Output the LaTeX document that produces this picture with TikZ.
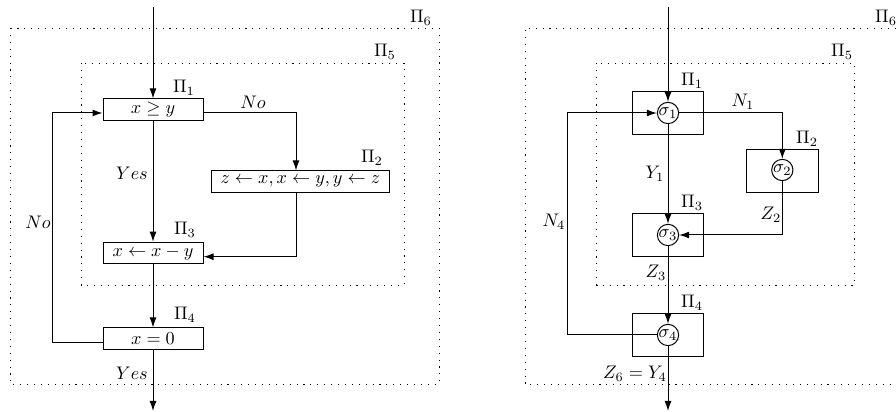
\documentclass[tikz,border=0pt]{standalone}
\usetikzlibrary{arrows.meta,calc}
\tikzset{
  every picture/.style={x=0.55pt,y=-0.55pt},
  conn/.style={line width=0.55pt},
  arr/.style={conn,-{Latex[length=5.5pt,width=3.8pt]}},
  lbox/.style={draw,line width=0.55pt,rectangle,inner sep=0pt,minimum width=55pt,minimum height=11.6pt},
  rbox/.style={draw,line width=0.55pt,rectangle,inner sep=0pt,minimum width=39.4pt,minimum height=23.8pt},
  cell/.style={draw,line width=0.55pt,circle,inner sep=0pt,minimum size=11.6pt},
  lab/.style={inner sep=0pt},
  region/.style={line width=0.5pt,dash pattern=on 0.6pt off 3.2pt}
}
\begin{document}
\begin{tikzpicture}
\useasboundingbox (0,0) rectangle (896,412);
% ---------------- left diagram ----------------
\draw[region] (10,28) rectangle (439,384);
\draw[region] (81,63) rectangle (404,285);
\node[lab] (lpi6) at (421,18) {$\Pi_6$};
\node[lab] (lpi5) at (385,52) {$\Pi_5$};

\node[lbox] (p1) at (153,109.5) {$x \geq y$};
\node[lbox,minimum width=97.9pt] (p2) at (300.3,181.5) {$z \leftarrow x, x \leftarrow y, y \leftarrow z$};
\node[lbox] (p3) at (153,252.8) {$x \leftarrow x - y$};
\node[lbox] (p4) at (153,338.5) {$x = 0$};

\coordinate (lin) at (153,7);
\coordinate (lout) at (153,411);

\node[lab] (lpi1) at (184,88) {$\Pi_1$};
\node[lab] (lpi2) at (372,158) {$\Pi_2$};
\node[lab] (lpi3) at (185,230) {$\Pi_3$};
\node[lab] (lpi4) at (185,315) {$\Pi_4$};
\node[lab] (lno1) at (253,102) {$No$};
\node[lab] (lyes1) at (132,173) {$Yes$};
\node[lab] (lno2) at (38,222) {$No$};
\node[lab] (lyes2) at (132,373) {$Yes$};

\draw[arr] (lin) -- (p1.north);
\draw[arr] ($(p1.east)+(0,3.5)$) -| ($(p2.north)+(-4.3,0)$);
\draw[arr] ($(p2.south)+(-4.3,0)$) |- ($(p3.east)+(0,3.9)$);
\draw[arr] (p1.south) -- (p3.north);
\draw[arr] (p3.south) -- (p4.north);
\draw[arr] ($(p4.west)+(0,3.8)$) -- ++(-50,0) |- ($(p1.west)+(0,3.5)$);
\draw[arr] (p4.south) -- (lout);

% ---------------- right diagram ----------------
\draw[region] (896,28) -- (525,28) -- (525,384) -- (896,384);
\draw[region] (596.7,63) rectangle (854.3,285);
\node[lab] (rpi6) at (886,18) {$\Pi_6$};
\node[lab] (rpi5) at (842,52) {$\Pi_5$};

\node[rbox] (b1) at (668,113.3) {};
\node[rbox] (b2) at (782.5,170.7) {};
\node[rbox] (b3) at (668,235) {};
\node[rbox] (b4) at (668,334.7) {};
\node[cell] (s1) at (668,113) {$\sigma_1$};
\node[cell] (s2) at (782.3,170) {$\sigma_2$};
\node[cell] (s3) at (668,235) {$\sigma_3$};
\node[cell] (s4) at (668,335) {$\sigma_4$};

\coordinate (rin) at (668,7);
\coordinate (rout) at (668,411);

\node[lab] (rpi1) at (692,81) {$\Pi_1$};
\node[lab] (rpi2) at (807,139) {$\Pi_2$};
\node[lab] (rpi3) at (692,203) {$\Pi_3$};
\node[lab] (rpi4) at (692,303) {$\Pi_4$};
\node[lab] (rn1) at (743,102) {$N_1$};
\node[lab] (ry1) at (655,174) {$Y_1$};
\node[lab] (rz2) at (771,215) {$Z_2$};
\node[lab] (rz3) at (656,273) {$Z_3$};
\node[lab] (rn4) at (554,222) {$N_4$};
\node[lab] (rz6) at (635,374) {$Z_6 = Y_4$};

\draw[arr] (rin) -- (s1.north);
\draw[arr] (s1.east) -| (s2.north);
\draw[arr] (s1.south) -- (s3.north);
\draw[arr] (s2.south) |- (s3.east);
\draw[arr] (s3.south) -- (s4.north);
\draw[arr] (s4.west) -- ++(-89.7,0) |- (s1.west);
\draw[arr] (s4.south) -- (rout);
\end{tikzpicture}
\end{document}
